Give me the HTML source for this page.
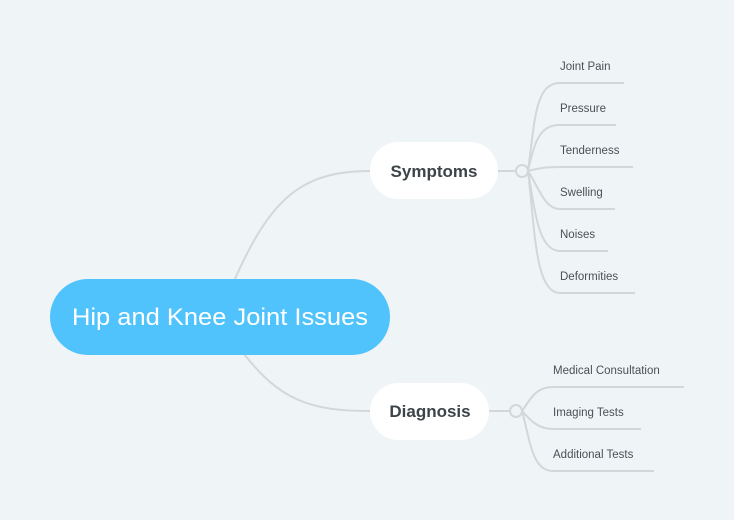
<!DOCTYPE html>
<html><head><meta charset="utf-8"><style>
html,body{margin:0;padding:0;background:#eff4f7;}
svg{display:block}
text{font-family:"Liberation Sans",sans-serif;}
</style></head><body>
<svg width="734" height="520" viewBox="0 0 734 520" xmlns="http://www.w3.org/2000/svg">
<rect width="734" height="520" fill="#eff4f7"/>
<g fill="none" stroke="#d3d7da" stroke-width="2">
<path d="M234,281 C270,200 300,171 370,171"/>
<path d="M244,354 C280,400 310,411 370,411"/>
<path d="M498,171 H516"/>
<path d="M489,411 H510"/>
<!-- symptoms branches -->
<path d="M528,171 C535,120 535,83 560,83 H624"/>
<path d="M528,171 C535,140 540,125 560,125 H616"/>
<path d="M528,171 C540,168 545,167 560,167 H633"/>
<path d="M528,171 C540,190 545,209 560,209 H615"/>
<path d="M528,171 C535,210 538,251 560,251 H608"/>
<path d="M528,171 C535,230 535,293 560,293 H635"/>
<!-- diagnosis branches -->
<path d="M522,411 C530,400 535,387 553,387 H684"/>
<path d="M522,411 C530,420 538,429 553,429 H641"/>
<path d="M522,411 C530,440 532,471 553,471 H654"/>
</g>
<circle cx="522" cy="171" r="6" fill="#eff4f7" stroke="#d3d7da" stroke-width="2"/>
<circle cx="516" cy="411" r="6" fill="#eff4f7" stroke="#d3d7da" stroke-width="2"/>
<rect x="50" y="279" width="340" height="76" rx="38" fill="#50c3fd"/>
<text x="72" y="325" font-size="24" fill="#fff" textLength="296" lengthAdjust="spacingAndGlyphs">Hip and Knee Joint Issues</text>
<rect x="370" y="142" width="128" height="57" rx="28.5" fill="#fff"/>
<text x="434" y="177" font-size="17" font-weight="bold" fill="#3d4448" text-anchor="middle">Symptoms</text>
<rect x="370" y="383" width="119" height="57" rx="28.5" fill="#fff"/>
<text x="430" y="417" font-size="17" font-weight="bold" fill="#3d4448" text-anchor="middle">Diagnosis</text>
<g font-size="11.5" fill="#4a5156">
<text x="560" y="70">Joint Pain</text>
<text x="560" y="112">Pressure</text>
<text x="560" y="154">Tenderness</text>
<text x="560" y="196">Swelling</text>
<text x="560" y="238">Noises</text>
<text x="560" y="280">Deformities</text>
<text x="553" y="374">Medical Consultation</text>
<text x="553" y="416">Imaging Tests</text>
<text x="553" y="458">Additional Tests</text>
</g>
</svg>
</body></html>
